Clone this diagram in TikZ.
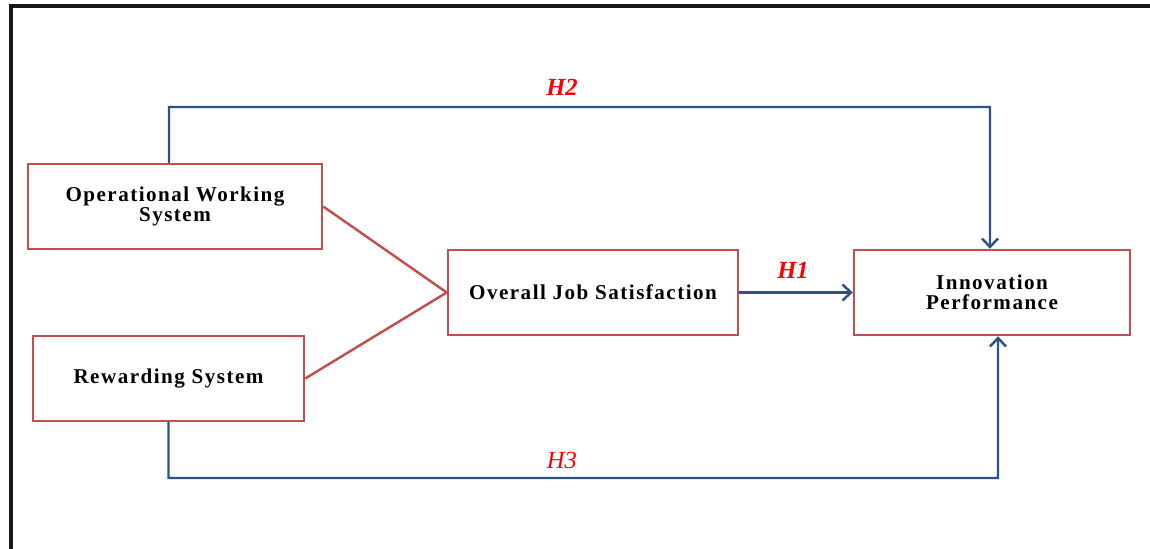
\documentclass[tikz,border=0pt]{standalone}
\usepackage{fontspec}
\usetikzlibrary{arrows.meta}
\setmainfont{Liberation Serif}
\newfontfamily\boxfont[LetterSpace=7]{Liberation Serif}
\begin{document}
\begin{tikzpicture}
[
x=0.02cm, y=-0.02cm,
Construct/.style={rectangle, draw={rgb,255:red,192;green,80;blue,77}, line width=1.4pt, fill=white, align=center, inner sep=0pt, font=\boxfont\bfseries\fontsize{12}{11.2}\selectfont},
Hypo/.style={text={rgb,255:red,255;green,0;blue,0}, font=\bfseries\itshape\fontsize{14}{14}\selectfont, inner sep=1pt},
Patharrow/.style={-{Straight Barb[length=1.7mm,width=3.2mm]}, draw={rgb,255:red,44;green,82;blue,138}, line width=1.4pt},
Link/.style={-, draw={rgb,255:red,192;green,80;blue,77}, line width=1.4pt},
Frame/.style={-, draw=black!90, line width=2pt}
]
\useasboundingbox (0,0) rectangle (1150,548);

% frame
\draw[Frame] (11,560) -- (11,6) -- (1160,6);

% constructs
\node[Construct, minimum width=294*0.02cm, minimum height=85*0.02cm] (OWS) at (175,206.5) {Operational Working\\System};
\node[Construct, minimum width=271*0.02cm, minimum height=85*0.02cm] (RS) at (168.5,378.5) {Rewarding System};
\node[Construct, minimum width=290*0.02cm, minimum height=85*0.02cm] (OJS) at (593,292.5) {Overall Job Satisfaction};
\node[Construct, minimum width=276*0.02cm, minimum height=85*0.02cm] (IP) at (992,292.5) {Innovation\\Performance};

% links
\draw[Link] (OWS.east) -- (OJS.west);
\draw[Link] (RS.east) -- (OJS.west);
\draw[Patharrow] (OJS.east) -- (IP.west);
\draw[Patharrow] ([xshift=-0.12cm]OWS.north) |- (990,107) -- ([xshift=-0.04cm]IP.north);
\draw[Patharrow] (RS.south) |- (998,478) -- ([xshift=0.12cm]IP.south);

% labels
\node[Hypo] (H1) at (793,270) {H1};
\node[Hypo] (H2) at (562,87) {H2};
\node[Hypo, font=\itshape\fontsize{14}{14}\selectfont] (H3) at (562,460) {H3};
\end{tikzpicture}
\end{document}
